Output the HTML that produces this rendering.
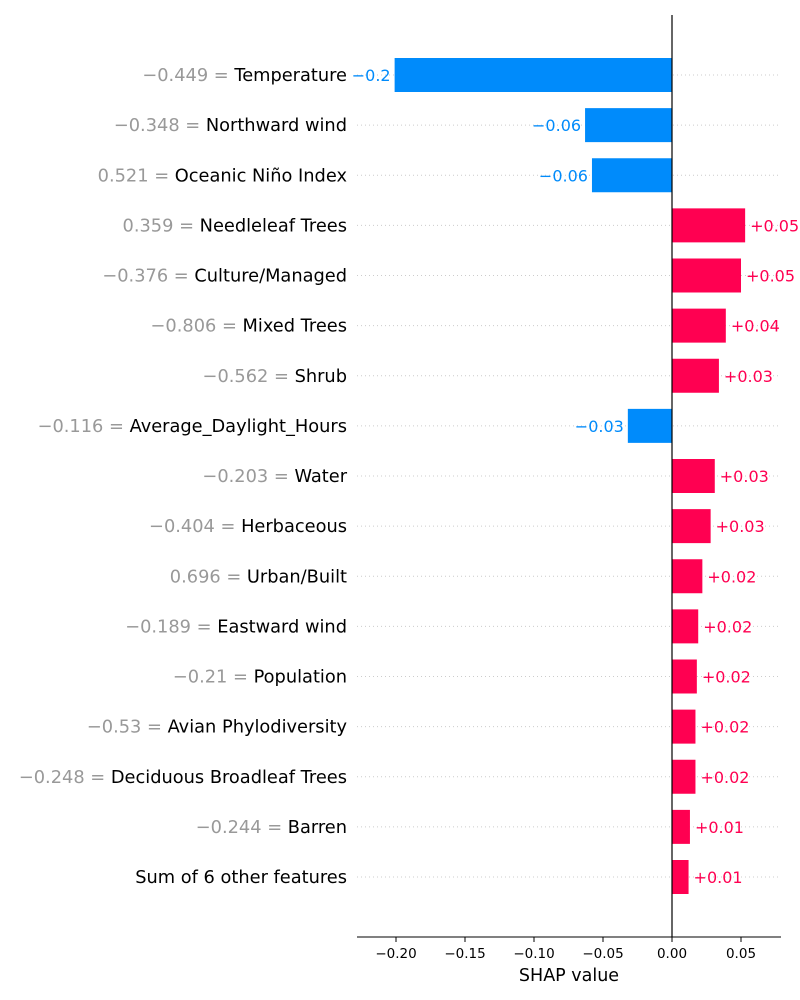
<!DOCTYPE html>
<html><head><meta charset="utf-8"><style>
body{margin:0;background:#fff}
svg{display:block;font-family:"DejaVu Sans","Liberation Sans",sans-serif}
</style></head><body>
<svg id="chart" width="800" height="1000" xmlns="http://www.w3.org/2000/svg"></svg>
<script>
const features=["Temperature","Northward wind","Oceanic Niño Index","Needleleaf Trees","Culture/Managed","Mixed Trees","Shrub","Average_Daylight_Hours","Water","Herbaceous","Urban/Built","Eastward wind","Population","Avian Phylodiversity","Deciduous Broadleaf Trees","Barren","Sum of 6 other features"];
const featureValues=["−0.449","−0.348","0.521","0.359","−0.376","−0.806","−0.562","−0.116","−0.203","−0.404","0.696","−0.189","−0.21","−0.53","−0.248","−0.244",""];
const shapValues=[-0.201,-0.063,-0.058,0.053,0.050,0.039,0.034,-0.032,0.031,0.028,0.022,0.019,0.018,0.017,0.017,0.013,0.012];
const valueLabels=["−0.2","−0.06","−0.06","+0.05","+0.05","+0.04","+0.03","−0.03","+0.03","+0.03","+0.02","+0.02","+0.02","+0.02","+0.02","+0.01","+0.01"];
const ticks=[-0.20,-0.15,-0.10,-0.05,0.00,0.05];
const tickLabels=["−0.20","−0.15","−0.10","−0.05","0.00","0.05"];
const svg=document.getElementById('chart');
const NS="http://www.w3.org/2000/svg";
const x=v=>672+v*1380;
const y=i=>75+i*50.125;
function mk(tag,attrs,text){const e=document.createElementNS(NS,tag);for(const k in attrs)e.setAttribute(k,attrs[k]);if(text!==undefined)e.textContent=text;svg.appendChild(e);return e;}
features.forEach((f,i)=>{
  const g=mk('line',{x1:357,x2:781,y1:y(i),y2:y(i),stroke:'#ccc','stroke-width':1,'stroke-dasharray':'1,3'});
  
  
  const v=shapValues[i];const pos=v>=0;
  const col=pos?'#ff0051':'#008bfb';
  const b=mk('rect',{x:Math.min(x(0),x(v)),y:y(i)-17,width:Math.abs(x(v)-x(0)),height:34,fill:col});
  
  
  const t=mk('text',{x:pos?x(v)+5:x(v)-4,y:y(i)+6,'text-anchor':pos?'start':'end','font-size':16,fill:col},valueLabels[i]);
  
  
  const l=mk('text',{x:347,y:y(i)+6,'text-anchor':'end','font-size':17.8,fill:'#000'});
  
  
  if(featureValues[i]){const s=document.createElementNS(NS,'tspan');s.setAttribute('fill','#999');s.textContent=featureValues[i]+' = ';l.appendChild(s);}
  const s2=document.createElementNS(NS,'tspan');s2.textContent=f;l.appendChild(s2);
});
const zl=mk('line',{x1:x(0),x2:x(0),y1:15,y2:937,stroke:'#000','stroke-width':1.2});


const ax=mk('line',{x1:357,x2:781,y1:937,y2:937,stroke:'#000','stroke-width':1});


ticks.forEach((t,i)=>{
  const tk=mk('line',{x1:x(t),x2:x(t),y1:937,y2:942,stroke:'#000'});
  
  
  const tl=mk('text',{x:x(t),y:958,'text-anchor':'middle','font-size':13.5},tickLabels[i]);
  
  
});
const xt=mk('text',{x:569,y:981,'text-anchor':'middle','font-size':17.5},'SHAP value');


</script>
</body></html>
